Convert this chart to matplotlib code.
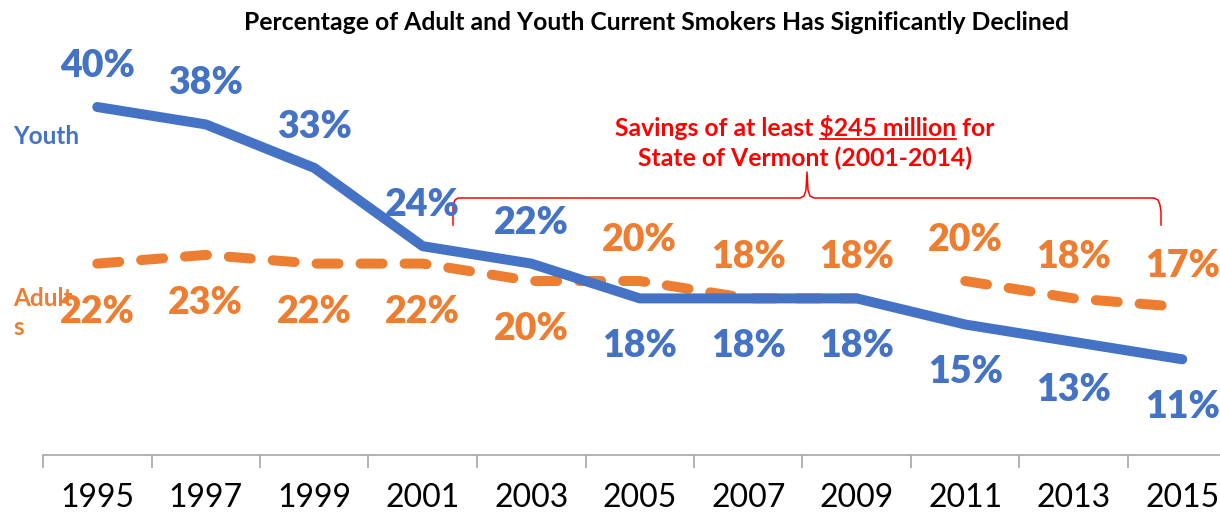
import numpy as np
import matplotlib
matplotlib.use("Agg")
import matplotlib.pyplot as plt

plt.rcParams['font.family'] = ['Lato', 'DejaVu Sans']

# Data
years = ['1995', '1997', '1999', '2001', '2003', '2005', '2007', '2009', '2011', '2013', '2015']
youth = [40, 38, 33, 24, 22, 18, 18, 18, 15, 13, 11]
adults = [22, 23, 22, 22, 20, 20, 18, 18, 20, 18, 17]
adult_break = 8          # adult line is not joined between 2009 and 2011
youth_label_pos = ['above'] * 5 + ['below'] * 6
adult_label_pos = ['below'] * 5 + ['above'] * 6

azul = '#4472C4'
laranja = '#ED7D31'
vermelho = '#FF0000'

fig = plt.figure(figsize=(12.2, 5.12), dpi=100)
ax = fig.add_axes([43 / 1220, 57 / 512, 1177 / 1220, 455 / 512])
x = np.arange(len(years))

# Eixos (antes de tudo, para as transformacoes ficarem certas)
for s in ['top', 'right', 'left']:
    ax.spines[s].set_visible(False)
ax.spines['bottom'].set_color('#A6A6A6')
ax.spines['bottom'].set_linewidth(1.2)
ax.set_yticks([])
ax.set_xticks(x)
ax.set_xticklabels(years, fontsize=23)
ax.tick_params(axis='x', which='major', length=0, pad=20)
ax.set_xticks(np.arange(-0.5, len(years), 1), minor=True)
ax.tick_params(axis='x', which='minor', length=9, width=1.2, color='#A6A6A6', direction='out')
ax.set_xlim(-0.5, -0.5 + 1177 / 108.5)
ax.set_ylim(0, 455 / 8.7)
ax.set_autoscale_on(False)

# Linhas
ax.plot(x, youth, color=azul, lw=7.2, solid_capstyle='round', solid_joinstyle='round', zorder=3)
for seg in (slice(0, adult_break), slice(adult_break, None)):
    ax.plot(x[seg], np.array(adults)[seg], color=laranja, lw=7.2, linestyle=(0, (2.2, 2.2)),
            dash_capstyle='round', zorder=2)

# Rotulos de dados
def rotular(vals, pos, cor):
    for xi, v, p in zip(x, vals, pos):
        dy = 29.5 if p == 'above' else -34.5
        ax.annotate(f'{v}%', (xi, v), xytext=(0, dy), textcoords='offset points',
                    ha='center', va='center', fontsize=27, fontweight='heavy', color=cor,
                    zorder=5, annotation_clip=False)

rotular(youth, youth_label_pos, azul)
rotular(adults, adult_label_pos, laranja)

# Nomes das series
fig.text(13 / 1220, 1 - 137 / 512, 'Youth', color=azul, fontsize=17.5, fontweight='bold', va='center')
fig.text(13 / 1220, 1 - 313 / 512, 'Adult\ns', color=laranja, fontsize=17.5, fontweight='bold',
         va='center', linespacing=1.35, zorder=1)

# Titulo
fig.text(657 / 1220, 1 - 22 / 512,
         'Percentage of Adult and Youth Current Smokers Has Significantly Declined',
         ha='center', va='center', fontsize=17.8, fontweight='bold', color='black')

# Chave e texto da economia
def px2data(px, py):
    return ax.transData.inverted().transform((px, 512 - py))

bx = [453, 453, 455, 458, 800, 804, 806, 807, 808, 810, 814, 1154, 1158, 1160, 1161, 1161]
by = [225, 205, 200, 198, 198, 196, 190, 172, 190, 196, 198, 198, 200, 205, 212, 225]
pts = [px2data(a, b) for a, b in zip(bx, by)]
ax.plot([p[0] for p in pts], [p[1] for p in pts], color=vermelho, lw=1.1, zorder=4, clip_on=False)

l1 = 'Savings of at least $245 million for'
l2 = 'State of Vermont (2001-2014)'
tx, ty1 = px2data(805, 127)
_, ty2 = px2data(804, 158)
fs_red = 17.8
t1 = ax.text(tx, ty1, l1, ha='center', va='center', fontsize=fs_red, fontweight='bold', color=vermelho)
ax.text(tx, ty2, l2, ha='center', va='center', fontsize=fs_red, fontweight='bold', color=vermelho)

# sublinhado de "$245 million"
fig.canvas.draw()
r = fig.canvas.get_renderer()
bb = t1.get_window_extent(r)
def largura(s):
    tt = ax.text(0, 0, s, fontsize=fs_red, fontweight='bold')
    w = tt.get_window_extent(r).width
    tt.remove()
    return w
w_ate = largura('Savings of at least $245 million')
w_mil = largura('$245 million')
x_fim = bb.x0 + w_ate
x_ini = x_fim - w_mil
y_sub = bb.y0 + 1
inv = ax.transData.inverted()
(a0, b0), (a1, b1) = inv.transform([(x_ini, y_sub), (x_fim, y_sub)])
ax.plot([a0, a1], [b0, b1], color=vermelho, lw=1.3, clip_on=False)

fig.savefig('out.png', dpi=100)
